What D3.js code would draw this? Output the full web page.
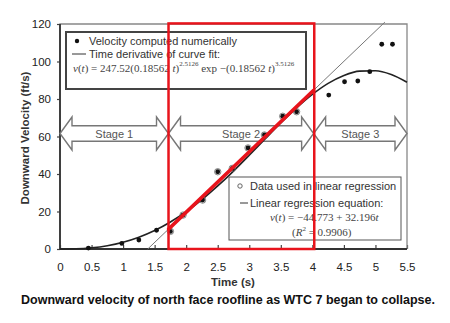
<!DOCTYPE html>
<html>
<head>
<meta charset="utf-8">
<script src="https://cdn.jsdelivr.net/npm/d3@7"></script>
<style>
  html, body { margin: 0; padding: 0; background: #fff; }
  svg { display: block; font-family: "Liberation Sans", Arial, sans-serif; }
</style>
</head>
<body>
<svg id="chart" width="450" height="323"></svg>
<script>
// Roofline velocity samples (s, ft/s)
const pointTime = [0.45, 0.98, 1.25, 1.53, 1.75, 1.95, 2.26, 2.50, 2.73, 2.98, 3.24, 3.53, 3.75, 4.26, 4.51, 4.72, 4.91, 5.10, 5.27];
const pointVel  = [0.5, 3.0, 4.8, 10.0, 9.4, 18.1, 26.1, 41.2, 43.0, 53.9, 60.8, 70.8, 73.2, 82.1, 89.2, 89.6, 94.6, 109.2, 109.2];
// samples that went into the linear regression
const regressionUsed = [false, false, false, false, true, true, true, true, true, true, true, true, true, false, false, false, false, false, false];

// Derivative of the fitted curve, sampled every quarter second
const curveTime = [0, 0.25, 0.5, 0.75, 1, 1.25, 1.5, 1.75, 2, 2.25, 2.5, 2.75, 3, 3.25, 3.5, 3.75, 4, 4.25, 4.5, 4.75, 5, 5.25, 5.5];
const curveVel  = [0, 0.11, 0.63, 1.74, 3.59, 6.27, 9.85, 14.40, 19.90, 26.34, 33.62, 41.57, 50.03, 58.68, 67.22, 75.27, 82.43, 88.32, 92.56, 94.87, 95.07, 93.07, 88.95];

// Linear regression v(t) = a + b t
const regIntercept = -44.773;
const regSlope = 32.196;

// Collapse stages (time spans, s)
const stageNames = ["Stage 1", "Stage 2", "Stage 3"];
const stageStart = [0, 1.72, 4.02];
const stageEnd   = [1.72, 4.02, 5.5];
const stageLevel = 61.6;

// Highlighted window
const boxTime = [1.72, 4.03];
const boxVel  = [0, 120.3];

const xTicks = [0, 0.5, 1, 1.5, 2, 2.5, 3, 3.5, 4, 4.5, 5, 5.5];
const xTickLabels = ["0", "0.5", "1", "1.5", "2", "2.5", "3", "3.5", "4", "4.5", "5", "5.5"];
const yTicks = [0, 20, 40, 60, 80, 100, 120];

const svg = d3.select("#chart");
const x = d3.scaleLinear().domain([0, 5.5]).range([60, 407]);
const y = d3.scaleLinear().domain([0, 120]).range([249, 24]);

// axes
const xAxis = d3.axisBottom(x).tickValues(xTicks)
  .tickFormat((d, i) => xTickLabels[i]).tickSize(-4).tickPadding(14);
const gx = svg.append("g").attr("transform", `translate(0,${y(0)})`).call(xAxis);
gx.select(".domain").remove();
gx.selectAll(".tick line").attr("stroke", "#444").attr("stroke-width", 1.2);
gx.selectAll("text").attr("font-size", 11.5).attr("fill", "#222")
  .attr("font-family", "Liberation Sans, Arial, sans-serif");

const yAxis = d3.axisLeft(y).tickValues(yTicks).tickSize(3).tickPadding(6);
const gy = svg.append("g").attr("transform", `translate(${x(0)},0)`).call(yAxis);
gy.select(".domain").remove();
gy.selectAll(".tick line").attr("stroke", "#444").attr("stroke-width", 1.2);
gy.selectAll("text").attr("font-size", 11.5).attr("fill", "#222")
  .attr("font-family", "Liberation Sans, Arial, sans-serif");

// plot frame
svg.append("path")
  .attr("d", `M${x(0)},${y(0)}V${y(120)}H${x(5.5)}V${y(0)}`)
  .attr("fill", "none").attr("stroke", "#888").attr("stroke-width", 1.3);
svg.append("path")
  .attr("d", `M${x(0)},${y(120)}V${y(0)}H${x(5.5)}`)
  .attr("fill", "none").attr("stroke", "#333").attr("stroke-width", 1.8);

// stage arrows
const yc = y(stageLevel), headH = 16.5, shaftH = 7.7, headL = 12;
stageNames.forEach((name, i) => {
  const x0 = x(stageStart[i]), x1 = x(stageEnd[i]);
  const p = d3.path();
  p.moveTo(x0, yc);
  p.lineTo(x0 + headL, yc - headH);
  p.lineTo(x0 + headL, yc - shaftH);
  p.lineTo(x1 - headL, yc - shaftH);
  p.lineTo(x1 - headL, yc - headH);
  p.lineTo(x1, yc);
  p.lineTo(x1 - headL, yc + headH);
  p.lineTo(x1 - headL, yc + shaftH);
  p.lineTo(x0 + headL, yc + shaftH);
  p.lineTo(x0 + headL, yc + headH);
  p.closePath();
  svg.append("path").attr("d", p.toString())
    .attr("fill", "#fff").attr("stroke", "#777").attr("stroke-width", 1.4);
  svg.append("text").attr("x", (x0 + x1) / 2).attr("y", yc + 4)
    .attr("text-anchor", "middle").attr("font-size", 11).attr("fill", "#555")
    .text(name);
});

// regression line across its full extent
const regT0 = -regIntercept / regSlope;
const regT1 = (121 - regIntercept) / regSlope;
svg.append("line")
  .attr("x1", x(regT0)).attr("y1", y(regIntercept + regSlope * regT0))
  .attr("x2", x(regT1)).attr("y2", y(regIntercept + regSlope * regT1))
  .attr("stroke", "#777").attr("stroke-width", 1);

// fitted curve derivative
const curveLine = d3.line().x(d => x(d[0])).y(d => y(d[1])).curve(d3.curveMonotoneX);
svg.append("path")
  .datum(curveTime.map((t, i) => [t, curveVel[i]]))
  .attr("d", curveLine)
  .attr("fill", "none").attr("stroke", "#222").attr("stroke-width", 1.6);

// points
const pts = pointTime.map((t, i) => ({ t, v: pointVel[i], used: regressionUsed[i] }));
svg.append("g").selectAll("circle.open").data(pts.filter(d => d.used)).join("circle")
  .attr("cx", d => x(d.t)).attr("cy", d => y(d.v)).attr("r", 3.2)
  .attr("fill", "none").attr("stroke", "#666").attr("stroke-width", 0.8);
svg.append("g").selectAll("circle.dot").data(pts).join("circle")
  .attr("cx", d => x(d.t)).attr("cy", d => y(d.v)).attr("r", 2.4)
  .attr("fill", "#111");

// legend: numeric velocity and curve fit
svg.append("rect").attr("x", 66).attr("y", 32).attr("width", 240).attr("height", 57)
  .attr("fill", "#fff").attr("stroke", "#444").attr("stroke-width", 2);
svg.append("circle").attr("cx", 77).attr("cy", 41).attr("r", 2.2).attr("fill", "#111");
svg.append("text").attr("x", 89).attr("y", 45).attr("font-size", 11).attr("fill", "#333")
  .text("Velocity computed numerically");
svg.append("line").attr("x1", 72).attr("x2", 86).attr("y1", 54).attr("y2", 54)
  .attr("stroke", "#333").attr("stroke-width", 1);
svg.append("text").attr("x", 89).attr("y", 58).attr("font-size", 11).attr("fill", "#333")
  .text("Time derivative of curve fit:");
const eq1 = svg.append("text").attr("x", 73).attr("y", 72)
  .attr("font-family", "Liberation Serif, Times New Roman, serif")
  .attr("font-size", 11).attr("fill", "#444");
eq1.append("tspan").attr("font-style", "italic").text("v");
eq1.append("tspan").text("(");
eq1.append("tspan").attr("font-style", "italic").text("t");
eq1.append("tspan").text(") = 247.52(0.18562 ");
eq1.append("tspan").attr("font-style", "italic").text("t");
eq1.append("tspan").text(")");
eq1.append("tspan").attr("font-size", 7).attr("dy", -6).text("2.5126");
eq1.append("tspan").attr("dy", 6).text(" exp  −(0.18562 ");
eq1.append("tspan").attr("font-style", "italic").text("t");
eq1.append("tspan").text(")");
eq1.append("tspan").attr("font-size", 7).attr("dy", -6).text("3.5126");

// legend: linear regression
svg.append("rect").attr("x", 229).attr("y", 177).attr("width", 172).attr("height", 63)
  .attr("fill", "#fff").attr("stroke", "#555").attr("stroke-width", 1);
svg.append("circle").attr("cx", 240).attr("cy", 186).attr("r", 2.2)
  .attr("fill", "none").attr("stroke", "#555").attr("stroke-width", 0.9);
svg.append("text").attr("x", 250).attr("y", 190).attr("font-size", 11).attr("fill", "#333")
  .text("Data used in linear regression");
svg.append("line").attr("x1", 240).attr("x2", 248).attr("y1", 203).attr("y2", 203)
  .attr("stroke", "#333").attr("stroke-width", 1);
svg.append("text").attr("x", 250).attr("y", 207).attr("font-size", 11).attr("fill", "#333")
  .text("Linear regression equation:");
const eq2 = svg.append("text").attr("x", 270).attr("y", 221)
  .attr("font-family", "Liberation Serif, Times New Roman, serif")
  .attr("font-size", 11).attr("fill", "#444");
eq2.append("tspan").attr("font-style", "italic").text("v");
eq2.append("tspan").text("(");
eq2.append("tspan").attr("font-style", "italic").text("t");
eq2.append("tspan").text(`) = −${Math.abs(regIntercept)} + ${regSlope}`);
eq2.append("tspan").attr("font-style", "italic").text("t");
const eq3 = svg.append("text").attr("x", 292).attr("y", 236)
  .attr("font-family", "Liberation Serif, Times New Roman, serif")
  .attr("font-size", 11).attr("fill", "#444");
eq3.append("tspan").text("(");
eq3.append("tspan").attr("font-style", "italic").text("R");
eq3.append("tspan").attr("font-size", 7).attr("dy", -5).text("2");
eq3.append("tspan").attr("dy", 5).text(" = 0.9906)");

// highlighted window with its regression segment
svg.append("line")
  .attr("x1", x(boxTime[0])).attr("y1", y(regIntercept + regSlope * boxTime[0]))
  .attr("x2", x(4.02)).attr("y2", y(regIntercept + regSlope * 4.02))
  .attr("stroke", "#e8141c").attr("stroke-width", 3.5).attr("stroke-linecap", "round");
svg.append("rect")
  .attr("x", x(boxTime[0])).attr("y", y(boxVel[1]))
  .attr("width", x(boxTime[1]) - x(boxTime[0])).attr("height", y(boxVel[0]) - y(boxVel[1]))
  .attr("fill", "none").attr("stroke", "#e8141c").attr("stroke-width", 2.5);

// axis titles and caption
svg.append("text").attr("x", 233).attr("y", 286).attr("text-anchor", "middle")
  .attr("font-size", 11.5).attr("font-weight", "bold").attr("fill", "#333").text("Time (s)");
svg.append("text").attr("transform", "translate(29,138) rotate(-90)")
  .attr("text-anchor", "middle").attr("font-size", 11.5).attr("font-weight", "bold")
  .attr("fill", "#333").text("Downward Velocity (ft/s)");
svg.append("text").attr("x", 228).attr("y", 304).attr("text-anchor", "middle")
  .attr("font-size", 12.5).attr("font-weight", "bold").attr("fill", "#111")
  .text("Downward velocity of north face roofline as WTC 7 began to collapse.");
</script>
</body>
</html>
